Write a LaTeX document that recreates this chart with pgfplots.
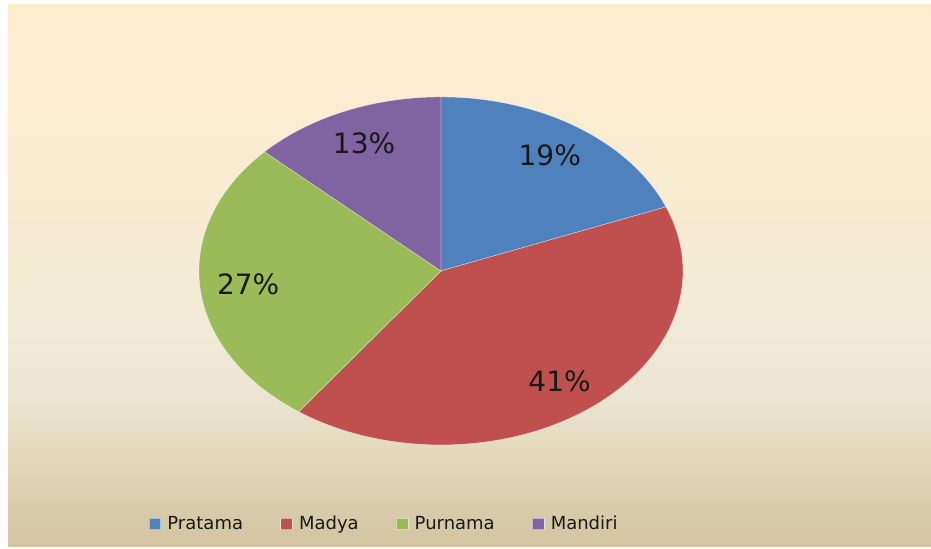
\documentclass[border=0pt]{standalone}
\usepackage{pgfplots}
\pgfplotsset{compat=1.18}
\usepackage{pgfplotstable}
\usepackage{fontspec}
\setmainfont{DejaVu Sans}
\definecolor{cA}{RGB}{79,129,189}
\definecolor{cB}{RGB}{192,80,77}
\definecolor{cC}{RGB}{155,187,89}
\definecolor{cD}{RGB}{128,100,162}
\definecolor{bg0}{RGB}{211,197,160}
\definecolor{bg1}{RGB}{214,201,166}
\definecolor{bg2}{RGB}{224,213,182}
\definecolor{bg3}{RGB}{235,228,208}
\definecolor{bg4}{RGB}{240,235,215}
\definecolor{bg5}{RGB}{245,235,210}
\definecolor{bg6}{RGB}{252,237,210}
\definecolor{bg7}{RGB}{253,237,207}
\pgfdeclareverticalshading{bgshade}{100bp}{color(0bp)=(bg0); color(25bp)=(bg0); color(27.5bp)=(bg1); color(32.1bp)=(bg2); color(38.6bp)=(bg3); color(45bp)=(bg4); color(52.4bp)=(bg5); color(66.2bp)=(bg6); color(75bp)=(bg7); color(100bp)=(bg7)}

\pgfplotstableread{
name value
Pratama 19
Madya 41
Purnama 27
Mandiri 13
}\piedata

\begin{document}
\begin{tikzpicture}[x=0.75pt,y=0.75pt]
\useasboundingbox (0,0) rectangle (931,549);
\shade[shading=bgshade] (8,2) rectangle (931,544);
\pgfplotstablegetelem{0}{value}\of\piedata \let\vA\pgfplotsretval
\pgfplotstablegetelem{1}{value}\of\piedata \let\vB\pgfplotsretval
\pgfplotstablegetelem{2}{value}\of\piedata \let\vC\pgfplotsretval
\pgfplotstablegetelem{3}{value}\of\piedata \let\vD\pgfplotsretval
\pgfmathsetmacro{\aA}{90}
\pgfmathsetmacro{\aB}{\aA-3.6*\vA}
\pgfmathsetmacro{\aC}{\aB-3.6*\vB}
\pgfmathsetmacro{\aD}{\aC-3.6*\vC}
\pgfmathsetmacro{\aE}{\aD-3.6*\vD}
\pgfmathsetmacro{\mA}{(\aA+\aB)/2}
\pgfmathsetmacro{\mB}{(\aB+\aC)/2}
\pgfmathsetmacro{\mC}{(\aC+\aD)/2}
\pgfmathsetmacro{\mD}{(\aD+\aE)/2}
\begin{axis}[
  at={(0,0)}, anchor=south west,
  scale only axis, width=698.25pt, height=411.75pt,
  xmin=-1.822, xmax=2.025, ymin=-1.598, ymax=1.557,
  axis lines=none, clip=false, samples=90,
  legend columns=4,
  legend style={at={(0.413,0.0455)}, anchor=center, draw=none, fill=none,
    font=\fontsize{13.5}{15}\selectfont, text=black!90,
    /tikz/every odd column/.append style={column sep=3pt},
    /tikz/every even column/.append style={column sep=26pt}},
  legend image code/.code={\fill[#1] (0pt,-4.2pt) rectangle (8.6pt,4.4pt);},
]
\addplot[fill=cA, draw=white, draw opacity=0.5, line width=0.4pt, domain=\aB:\aA] ({cos(x)},{sin(x)}) -- (axis cs:0,0) -- cycle;
\addlegendentry{Pratama}
\addplot[fill=cB, draw=white, draw opacity=0.5, line width=0.4pt, domain=\aC:\aB] ({cos(x)},{sin(x)}) -- (axis cs:0,0) -- cycle;
\addlegendentry{Madya}
\addplot[fill=cC, draw=white, draw opacity=0.5, line width=0.4pt, domain=\aD:\aC] ({cos(x)},{sin(x)}) -- (axis cs:0,0) -- cycle;
\addlegendentry{Purnama}
\addplot[fill=cD, draw=white, draw opacity=0.5, line width=0.4pt, domain=\aE:\aD] ({cos(x)},{sin(x)}) -- (axis cs:0,0) -- cycle;
\addlegendentry{Mandiri}
\node[font=\fontsize{21}{25}\selectfont, text=black!90] at (axis cs:{0.8*cos(\mA)},{0.8*sin(\mA)}) {\vA\%};
\node[font=\fontsize{21}{25}\selectfont, text=black!90] at (axis cs:{0.8*cos(\mB)},{0.8*sin(\mB)}) {\vB\%};
\node[font=\fontsize{21}{25}\selectfont, text=black!90] at (axis cs:{0.8*cos(\mC)},{0.8*sin(\mC)}) {\vC\%};
\node[font=\fontsize{21}{25}\selectfont, text=black!90] at (axis cs:{0.8*cos(\mD)},{0.8*sin(\mD)}) {\vD\%};
\end{axis}
\end{tikzpicture}
\end{document}
